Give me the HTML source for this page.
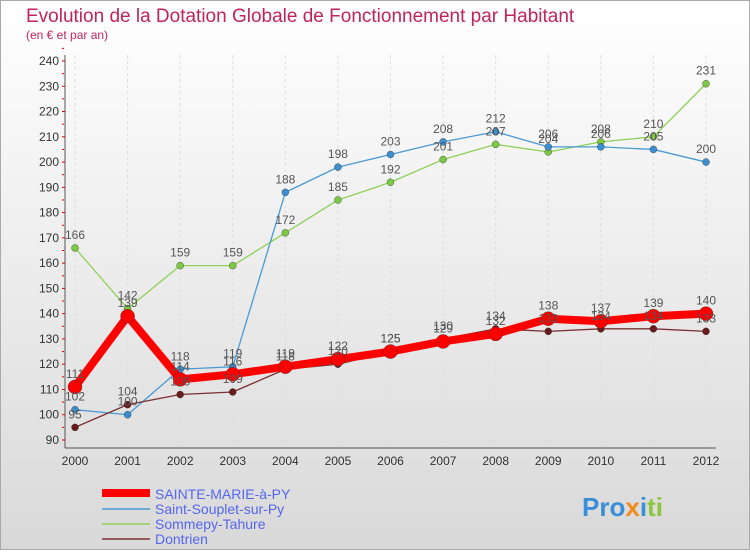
<!DOCTYPE html>
<html><head><meta charset="utf-8"><style>
body{margin:0;width:750px;height:550px;overflow:hidden;font-family:"Liberation Sans",sans-serif}
svg text{font-family:"Liberation Sans",sans-serif}
</style></head><body>
<svg id="c" width="750" height="550" xmlns="http://www.w3.org/2000/svg">
<defs><linearGradient id="bg" x1="0" y1="0" x2="0" y2="1"><stop offset="0" stop-color="#ffffff"/><stop offset="1" stop-color="#d9d9d9"/></linearGradient></defs>
<rect x="0.5" y="0.5" width="749" height="549" fill="url(#bg)" stroke="#aaa"/>
<text x="26" y="22" font-size="19" fill="#c0245c">Evolution de la Dotation Globale de Fonctionnement par Habitant</text>
<text x="26" y="39" font-size="12" fill="#c0245c">(en € et par an)</text>
<g id="grid"></g><g id="axes"></g><g id="series"></g><g id="labels"></g>
<g>
<line x1="102" y1="493" x2="150" y2="493" stroke="#ff0000" stroke-width="8"/>
<text x="155" y="499" font-size="14" fill="#5566ee">SAINTE-MARIE-à-PY</text>
<line x1="102" y1="509" x2="150" y2="509" stroke="#4a9ad4" stroke-width="1.5"/>
<text x="155" y="514" font-size="14" fill="#5566ee">Saint-Souplet-sur-Py</text>
<line x1="102" y1="524" x2="150" y2="524" stroke="#8ed05a" stroke-width="1.5"/>
<text x="155" y="529" font-size="14" fill="#5566ee">Sommepy-Tahure</text>
<line x1="102" y1="539" x2="150" y2="539" stroke="#7a3030" stroke-width="1.5"/>
<text x="155" y="544" font-size="14" fill="#5566ee">Dontrien</text>
</g>
<text x="582" y="516" font-size="26" font-weight="bold"><tspan fill="#3a8fd8">Pro</tspan><tspan fill="#f08c1c">x</tspan><tspan fill="#3a8fd8">i</tspan><tspan fill="#8cc63f">ti</tspan></text>
</svg>
<script>
const years=[2000,2001,2002,2003,2004,2005,2006,2007,2008,2009,2010,2011,2012];
const yTicks=[90,100,110,120,130,140,150,160,170,180,190,200,210,220,230,240];
const sainteMarie=[111,139,114,116,119,122,125,129,132,138,137,139,140];
const saintSouplet=[102,100,118,119,188,198,203,208,212,206,206,205,200];
const sommepy=[166,142,159,159,172,185,192,201,207,204,208,210,231];
const dontrien=[95,104,108,109,118,120,125,130,134,133,134,134,133];
const NS="http://www.w3.org/2000/svg";
const X=i=>75+i*(706-75)/(years.length-1);
const Y=v=>440-(v-90)*(440-61)/150;
function mk(t,a,p){const e=document.createElementNS(NS,t);for(const k in a)e.setAttribute(k,a[k]);document.getElementById(p).appendChild(e);return e;}
// axes
let e=mk('line',{x1:65,y1:55,x2:65,y2:448,stroke:'#555'},'axes');


e=mk('line',{x1:65,y1:448,x2:716,y2:448,stroke:'#555'},'axes');


yTicks.forEach(v=>{
 const t=mk('text',{x:59,y:Y(v)+4,'font-size':12,fill:'#333','text-anchor':'end'},'axes');t.textContent=v;
 
 
 mk('line',{x1:62,y1:Y(v),x2:65,y2:Y(v),stroke:'#d00'},'axes');
 mk('line',{x1:62,y1:Y(v+5),x2:64,y2:Y(v+5),stroke:'#d00'},'axes');
});
years.forEach((y,i)=>{
 const g=mk('line',{x1:X(i),y1:55,x2:X(i),y2:448,stroke:'#ddd','stroke-dasharray':'3,3'},'grid');
 
 
 const t=mk('text',{x:X(i),y:465,'font-size':12,fill:'#333','text-anchor':'middle'},'axes');t.textContent=y;
 
 
});
function series(d,name,col,w,r,fill){
 const l=mk('polyline',{points:d.map((v,i)=>X(i)+','+Y(v)).join(' '),fill:'none',stroke:col,'stroke-width':w,'stroke-linejoin':'round'},'series');
 
 
 d.forEach((v,i)=>{
  const c=mk('circle',{cx:X(i),cy:Y(v),r:r,fill:fill,stroke:'#333','stroke-width':0.4},'series');
  
  
  const t=mk('text',{x:X(i),y:Y(v)-9,'font-size':12,fill:'#555','text-anchor':'middle'},'labels');t.textContent=v;
  
  
 });
}
series(sommepy,'sommepy','#8ed05a',1.3,3.5,'#7cc942');
series(saintSouplet,'saint-souplet','#4a9ad4',1.3,3.5,'#3a8fd0');
series(dontrien,'dontrien','#7a3030',1.3,3.5,'#6a1a1a');
series(sainteMarie,'sainte-marie','#ff0000',8,7,'#ff0000');
</script>
</body></html>
